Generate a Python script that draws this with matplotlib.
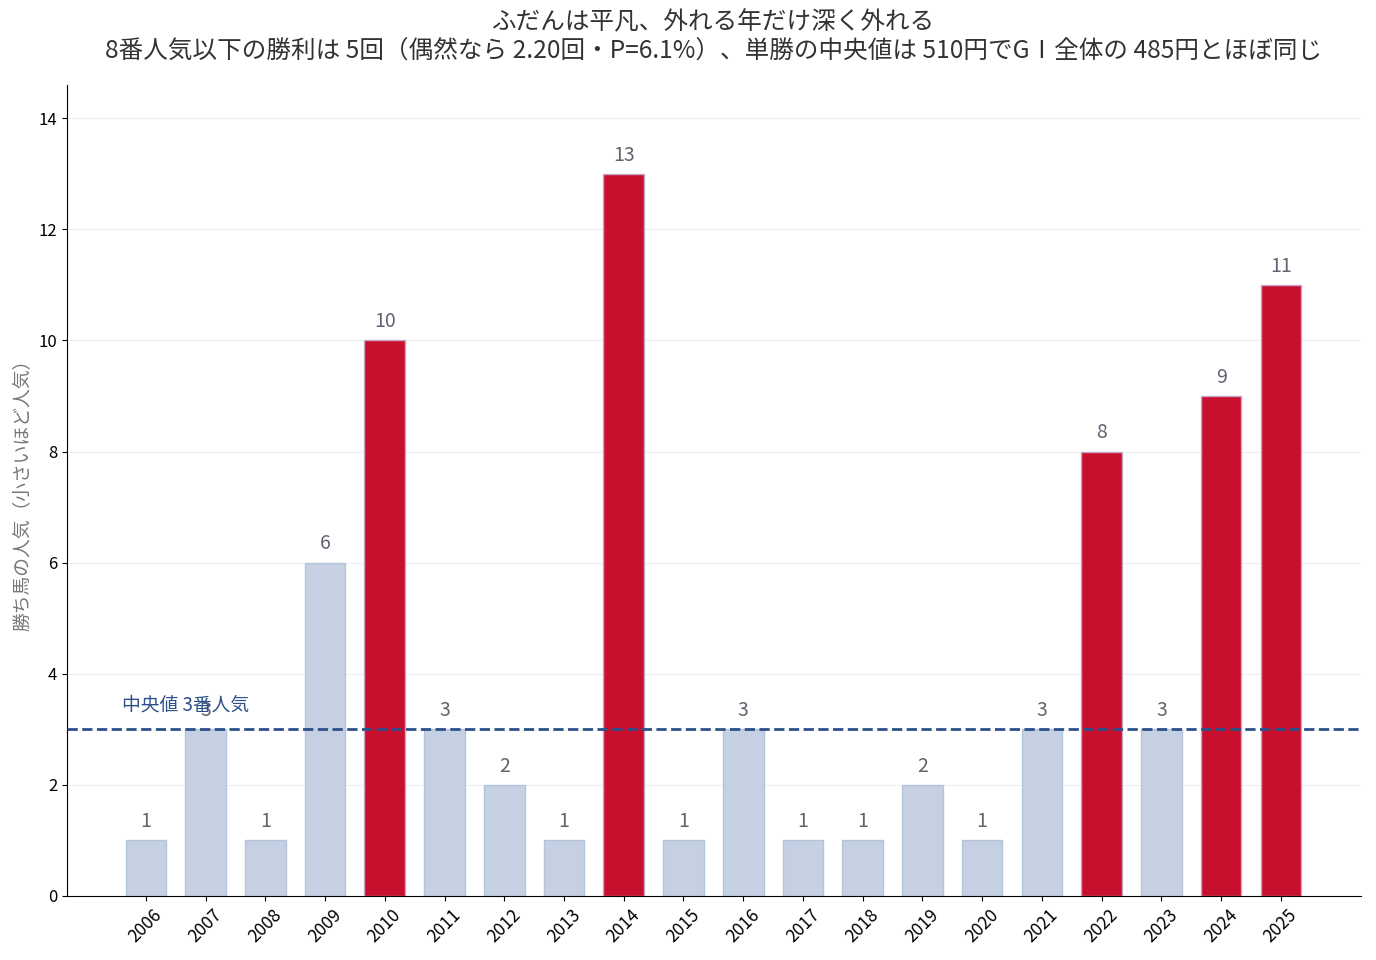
import matplotlib
matplotlib.use("Agg")
import matplotlib.pyplot as plt
import numpy as np

plt.rcParams['font.family'] = ['Noto Sans CJK JP', 'DejaVu Sans']

# --- data ---
years = [2006, 2007, 2008, 2009, 2010, 2011, 2012, 2013, 2014, 2015,
         2016, 2017, 2018, 2019, 2020, 2021, 2022, 2023, 2024, 2025]
popularity = [1, 3, 1, 6, 10, 3, 2, 1, 13, 1, 3, 1, 1, 2, 1, 3, 8, 3, 9, 11]
median_pop = 3
longshot_cutoff = 8

title_text = ("ふだんは平凡、外れる年だけ深く外れる\n"
              "8番人気以下の勝利は 5回（偶然なら 2.20回・P=6.1%）、単勝の中央値は 510円でGⅠ全体の 485円とほぼ同じ")

# --- colours ---
base_col = "#c5d0e2"
base_edge = "#b4c3dc"
hit_col = "#c8102e"
hit_edge = "#c8a8c8"
line_col = "#2d4f8a"
label_col = "#5f6470"

fig = plt.figure(figsize=(13.76, 9.6), dpi=100)
ax = fig.add_axes([0.0487, 0.0667, 0.9403, 0.8448])

x = np.arange(len(years))
colors = [hit_col if p >= longshot_cutoff else base_col for p in popularity]
edges = [hit_edge if p >= longshot_cutoff else base_edge for p in popularity]
bars = ax.bar(x, popularity, width=0.68, color=colors, edgecolor=edges, linewidth=1.0, zorder=2)

# value labels above bars
for xi, p in zip(x, popularity):
    ax.text(xi, p + 0.15, str(p), ha='center', va='bottom', fontsize=14, color=label_col, zorder=4)

ax.axhline(median_pop, color=line_col, linestyle='--', linewidth=2, zorder=3)
ax.text(-0.4, median_pop + 0.25, f"中央値 {median_pop}番人気", ha='left', va='bottom',
        fontsize=13.5, color=line_col, zorder=5)

ax.set_xlim(-1.32, len(years) - 1 + 1.34)
ax.set_ylim(0, 14.6)
ax.set_xticks(x)
ax.set_xticklabels([str(y) for y in years], rotation=45, fontsize=12.5)
ax.set_yticks(np.arange(0, 15, 2))
ax.tick_params(axis='y', labelsize=12)
ax.grid(axis='y', color='#eeeeee', linewidth=0.8, zorder=0)
ax.set_axisbelow(True)
for s in ['top', 'right']:
    ax.spines[s].set_visible(False)

ax.set_ylabel("勝ち馬の人気（小さいほど人気）", fontsize=13.5, color='#777777')
ax.set_title(title_text, fontsize=17.7, color='#333333', pad=20, linespacing=1.1)

fig.savefig("out.png", dpi=100)
